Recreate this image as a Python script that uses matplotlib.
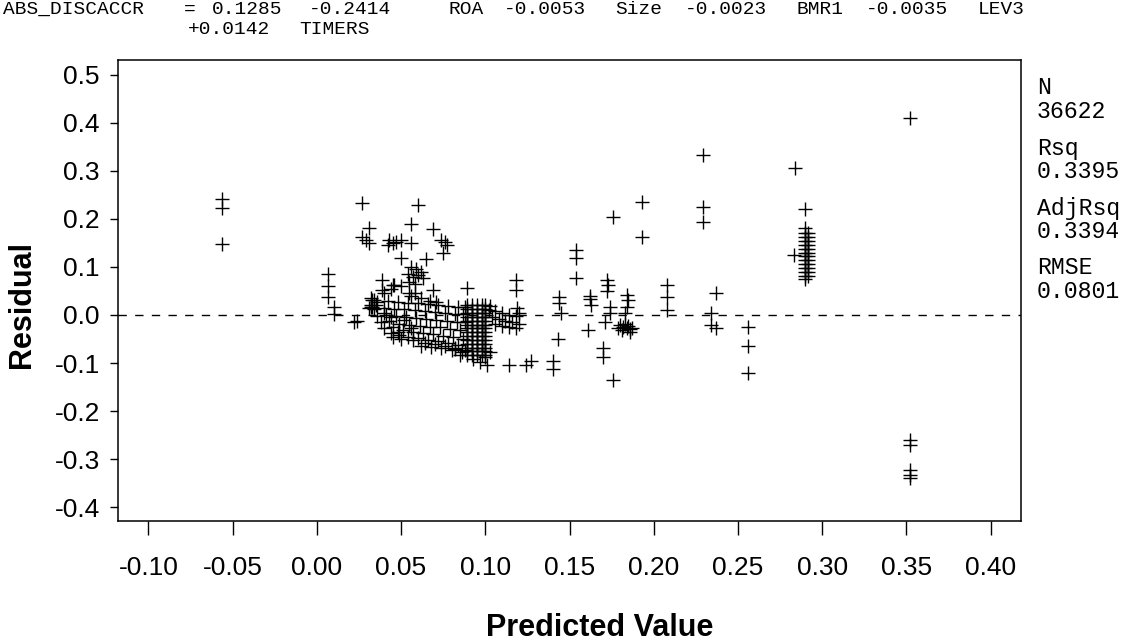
import matplotlib
matplotlib.use("Agg")
import matplotlib.pyplot as plt

# residual plot (predicted value, residual)
left_x = [-0.056, -0.056, -0.056, 0.0065, 0.0065, 0.0065, 0.010, 0.010, 0.024, 0.022]
left_y = [0.242, 0.222, 0.148, 0.085, 0.060, 0.037, 0.017, 0.003, -0.012, -0.014]

upper_x = [0.027, 0.027, 0.029, 0.031, 0.031, 0.043, 0.045, 0.042, 0.047, 0.050, 0.056, 0.056, 0.060,
           0.050, 0.065, 0.069, 0.074, 0.077, 0.075, 0.076,
           0.054, 0.057, 0.060, 0.063, 0.055, 0.058, 0.056, 0.059, 0.062, 0.055,
           0.039, 0.045, 0.039, 0.033, 0.032, 0.069, 0.089, 0.032, 0.032, 0.040]
upper_y = [0.233, 0.162, 0.156, 0.181, 0.150, 0.156, 0.150, 0.145, 0.152, 0.156, 0.150, 0.190, 0.229,
           0.119, 0.117, 0.180, 0.157, 0.146, 0.130, 0.152,
           0.085, 0.080, 0.083, 0.078, 0.068, 0.065, 0.100, 0.095, 0.090, 0.046,
           0.073, 0.062, 0.052, 0.031, 0.017, 0.052, 0.056, 0.035, 0.020, 0.046]

band_x = [0.036, 0.042, 0.048, 0.054, 0.060, 0.066, 0.072, 0.078, 0.084, 0.088,
          0.034, 0.040, 0.046, 0.052, 0.058, 0.064, 0.070, 0.076, 0.082, 0.087,
          0.036, 0.041, 0.047, 0.053, 0.059, 0.065, 0.071, 0.077, 0.083, 0.088,
          0.038, 0.043, 0.049, 0.055, 0.061, 0.067, 0.073, 0.079, 0.085,
          0.040, 0.045, 0.051, 0.057, 0.063, 0.069, 0.075, 0.081, 0.087,
          0.044, 0.049, 0.054, 0.060, 0.066, 0.072, 0.078, 0.084,
          0.050, 0.057, 0.064, 0.070, 0.076, 0.082, 0.088,
          0.062, 0.068, 0.074, 0.080, 0.086,
          0.040, 0.044, 0.052, 0.048, 0.056, 0.045, 0.035, 0.031, 0.056, 0.062,
          0.067, 0.071, 0.058, 0.050, 0.044, 0.046, 0.034, 0.033, 0.082, 0.085]
band_y = [0.028, 0.030, 0.027, 0.026, 0.024, 0.022, 0.021, 0.019, 0.017, 0.016,
          0.012, 0.015, 0.013, 0.012, 0.010, 0.008, 0.006, 0.005, 0.003, 0.002,
          -0.002, 0.000, -0.003, -0.005, -0.006, -0.008, -0.010, -0.012, -0.014, -0.015,
          -0.015, -0.013, -0.018, -0.020, -0.022, -0.024, -0.026, -0.029, -0.031,
          -0.028, -0.026, -0.032, -0.035, -0.038, -0.040, -0.043, -0.046, -0.049,
          -0.038, -0.042, -0.045, -0.048, -0.052, -0.055, -0.058, -0.062,
          -0.050, -0.053, -0.058, -0.061, -0.064, -0.068, -0.072,
          -0.064, -0.066, -0.069, -0.072, -0.078,
          0.005, -0.005, -0.010, -0.035, -0.028, -0.045, 0.020, 0.015, 0.040, 0.035,
          0.030, 0.028, 0.045, 0.060, 0.055, 0.062, 0.032, 0.017, -0.070, -0.083]

# dense column of residuals around predicted 0.09-0.10
block1_x = [0.089, 0.092, 0.095, 0.098, 0.100]
block1_y = [0.020, 0.012, 0.004, -0.004, -0.012, -0.020, -0.028, -0.036, -0.044,
            -0.052, -0.060, -0.068, -0.076, -0.084]

trail_x = [0.102, 0.106, 0.110, 0.114, 0.118, 0.104, 0.108, 0.112, 0.116, 0.120,
           0.106, 0.110, 0.114, 0.118, 0.103, 0.119, 0.120, 0.118, 0.118,
           0.100, 0.103, 0.097, 0.093, 0.101, 0.114, 0.124, 0.127, 0.140, 0.140]
trail_y = [0.010, 0.008, 0.004, 0.001, -0.002, -0.004, -0.008, -0.012, -0.015, -0.018,
           -0.018, -0.022, -0.026, -0.028, 0.018, 0.015, 0.005, 0.073, 0.052,
           -0.087, -0.077, -0.098, -0.092, -0.104, -0.104, -0.104, -0.096, -0.096, -0.113]

right_x = [0.144, 0.144, 0.145, 0.143, 0.154, 0.154, 0.154, 0.162, 0.162, 0.163, 0.161,
           0.170, 0.170, 0.176, 0.176, 0.172, 0.173, 0.172, 0.174, 0.174, 0.171,
           0.180, 0.182, 0.184, 0.186, 0.181, 0.183, 0.185, 0.187, 0.179, 0.186,
           0.184, 0.185, 0.184, 0.183, 0.193, 0.193, 0.208, 0.208, 0.208,
           0.229, 0.229, 0.229, 0.234, 0.234, 0.237, 0.237, 0.256, 0.256, 0.256,
           0.284, 0.290, 0.283, 0.290, 0.290,
           0.352, 0.352, 0.352, 0.352, 0.352, 0.352]
right_y = [0.037, 0.025, 0.004, -0.050, 0.135, 0.118, 0.077, 0.040, 0.033, 0.020, -0.031,
           -0.069, -0.087, 0.204, -0.135, 0.072, 0.062, 0.050, 0.017, 0.004, -0.014,
           -0.020, -0.025, -0.028, -0.030, -0.032, -0.018, -0.022, -0.027, -0.028, -0.035,
           0.042, 0.031, 0.017, 0.004, 0.235, 0.163, 0.062, 0.038, 0.010,
           0.333, 0.225, 0.194, 0.004, -0.021, 0.046, -0.027, -0.025, -0.064, -0.121,
           0.306, 0.221, 0.125, 0.181, 0.075,
           0.410, -0.260, -0.271, -0.323, -0.333, -0.340]

# dense column around predicted 0.29
block2_x = [0.2895, 0.2915]
block2_y = [0.170, 0.162, 0.154, 0.146, 0.138, 0.130, 0.122, 0.114, 0.106, 0.098, 0.090, 0.082]

x_ticks = [-0.10, -0.05, 0.00, 0.05, 0.10, 0.15, 0.20, 0.25, 0.30, 0.35, 0.40]
y_ticks = [-0.4, -0.3, -0.2, -0.1, 0.0, 0.1, 0.2, 0.3, 0.4, 0.5]

# model equation, words with their character column
title1 = [(0, "ABS_DISCACCR"), (13, "="), (15, "0.1285"), (22, "-0.2414"), (32, "ROA"),
          (36, "-0.0053"), (44, "Size"), (49, "-0.0023"), (57, "BMR1"), (62, "-0.0035"), (70, "LEV3")]
title2 = [(0, "+0.0142"), (8, "TIMERS")]

stats = [("N", "36622"), ("Rsq", "0.3395"), ("AdjRsq", "0.3394"), ("RMSE", "0.0801")]

W, H = 1138, 641
fig = plt.figure(figsize=(W / 100, H / 100), dpi=100)
ax = fig.add_axes([118 / W, 1 - 521 / H, (1021 - 118) / W, (521 - 60) / H])

xs = left_x + upper_x + band_x + trail_x + right_x
ys = left_y + upper_y + band_y + trail_y + right_y
for bx in block1_x:
    for by in block1_y:
        xs.append(bx)
        ys.append(by)
for bx in block2_x:
    for by in block2_y:
        xs.append(bx)
        ys.append(by)

ax.plot(xs, ys, linestyle="none", marker="+", color="black", markersize=10, markeredgewidth=1.0)
ax.axhline(0, color="black", linestyle=(0, (6, 6)), linewidth=1.0)

ax.set_xlim(-0.118, 0.418)
ax.set_ylim(-0.429, 0.531)
ax.set_xticks(x_ticks)
ax.set_xticklabels(["%.2f" % v for v in x_ticks])
ax.set_yticks(y_ticks)
ax.set_yticklabels(["%.1f" % abs(v) if v == 0 else "%.1f" % v for v in y_ticks])
mono = "Liberation Mono"
sans = "Liberation Sans"
for lab in ax.get_xticklabels() + ax.get_yticklabels():
    lab.set_fontfamily(sans)
    lab.set_fontsize(19)
ax.tick_params(axis="x", direction="out", length=10, width=1, pad=15)
ax.tick_params(axis="y", direction="out", length=6, width=1, pad=7)
for s in ax.spines.values():
    s.set_linewidth(1.1)

fig.text(600 / W, 1 - 628 / H, "Predicted Value", ha="center", va="center",
         fontsize=22, fontweight="bold", family=sans)
fig.text(22 / W, 1 - 304 / H, "Residual", ha="center", va="center", rotation=90,
         fontsize=22, fontweight="bold", family=sans)

cw = 13.92  # pixel width of one character column
for col, word in title1:
    fig.text((3 + col * cw) / W, 1 - 9 / H, word, ha="left", va="center", fontsize=14, family=mono)
for col, word in title2:
    fig.text((188 + col * cw) / W, 1 - 29 / H, word, ha="left", va="center", fontsize=14, family=mono)

ypos = [(87, 112), (148, 172), (208, 232), (268, 292)]
for (name, val), (y1, y2) in zip(stats, ypos):
    fig.text(1037 / W, 1 - y1 / H, name, ha="left", va="center", fontsize=16.7, family=mono)
    fig.text(1037 / W, 1 - y2 / H, val, ha="left", va="center", fontsize=16.7, family=mono)

fig.savefig("out.png", dpi=100)
